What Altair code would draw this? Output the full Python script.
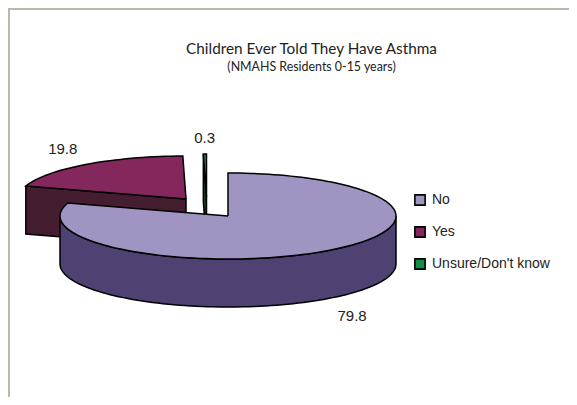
import math
import altair as alt
import pandas as pd

categories = ["No", "Yes", "Unsure/Don't know"]
values = [79.8, 19.8, 0.3]
top_colors = ["#a095c2", "#84275c", "#1a8a48"]
side_colors = ["#4f4272", "#441d30", "#0e3d22"]

# Pie geometry, in page pixels: exploded centres, radii of the tilted disc, its depth
centers = [(228, 216), (186, 199), (206.5, 197)]
RX, RY, DEPTH = 168, 43, 48
label_gaps = [(42, 21), (38, 19), (38, 16)]

sx = alt.Scale(domain=[8, 569], nice=False, zero=False)
sy = alt.Scale(domain=[397, 8], nice=False, zero=False)


def pt(c, deg, drop=0):
    a = math.radians(deg)
    return c[0] + RX * math.sin(a), c[1] - RY * math.cos(a) + drop


def arc(c, a0, a1, drop=0):
    n = max(2, int(abs(a1 - a0) / 2) + 1)
    return [pt(c, a0 + (a1 - a0) * i / n, drop) for i in range(n + 1)]


def poly(points, **extra):
    pts = list(points) + [points[0]]
    return pd.DataFrame(
        [dict(x=p[0], y=p[1], i=i, **extra) for i, p in enumerate(pts)]
    )


def x_y():
    return dict(
        x=alt.X("x:Q", scale=sx, axis=None),
        y=alt.Y("y:Q", scale=sy, axis=None),
        order=alt.Order("i:Q"),
    )


total = sum(values)
spans, start = [], 0.0
for v in values:
    spans.append((start, start + 360 * v / total))
    start += 360 * v / total

fill_scale = alt.Scale(domain=categories, range=top_colors)
legend = alt.Legend(
    title=None, orient="none", legendX=405, legendY=185,
    symbolType="square", symbolSize=105, symbolStrokeColor="black",
    symbolStrokeWidth=1.6, symbolOpacity=1, rowPadding=14, labelFont="Liberation Sans",
    labelFontSize=14, labelColor="#222222", labelOffset=5, labelLimit=170,
)

line_style = dict(stroke="black", strokeWidth=1.5, strokeJoin="miter", filled=True)


def side(df, color):
    return alt.Chart(df).mark_line(fill=color, **line_style).encode(**x_y())


def top(idx):
    c = centers[idx]
    a0, a1 = spans[idx]
    df = poly([c] + arc(c, a0, a1), category=categories[idx])
    return alt.Chart(df).mark_line(**line_style).encode(
        fill=alt.Fill("category:N", scale=fill_scale, legend=legend), **x_y()
    )


layers = []
# Slices 2 and 3: cut face, then top
for idx in (1, 2):
    c = centers[idx]
    a0, a1 = spans[idx]
    s = pt(c, a0)
    sd = pt(c, a0, DEPTH)
    layers.append(side(poly([s, c, (c[0], c[1] + DEPTH), sd]), side_colors[idx]))
    layers.append(top(idx))
# Slice 1: front rim, then top
c = centers[0]
rim = arc(c, 90, 270) + arc(c, 270, 90, DEPTH)
layers.append(side(poly(rim), side_colors[0]))
layers.append(top(0))

# Value labels, placed from each slice's mid angle
rows = []
for idx, v in enumerate(values):
    a0, a1 = spans[idx]
    mid = math.radians((a0 + a1) / 2)
    cx, cy = centers[idx]
    gx, gy = label_gaps[idx]
    rows.append(dict(
        x=cx + (RX + gx) * math.sin(mid),
        y=cy - (RY + gy) * math.cos(mid) + (DEPTH if math.cos(mid) < 0 else 0),
        label=f"{v:.1f}",
    ))
labels = alt.Chart(pd.DataFrame(rows)).mark_text(
    font="Liberation Sans", fontSize=15, color="#222222"
).encode(x=alt.X("x:Q", scale=sx, axis=None), y=alt.Y("y:Q", scale=sy, axis=None), text="label:N")

edge_color = "#b9b9ad"
top_edge = alt.Chart(pd.DataFrame({"a": [0]})).mark_rule(color=edge_color, strokeWidth=2).encode(
    x=alt.value(0), x2=alt.value(561), y=alt.value(1)
)
left_edge = alt.Chart(pd.DataFrame({"a": [0]})).mark_rule(color=edge_color, strokeWidth=2).encode(
    x=alt.value(1), y=alt.value(0), y2=alt.value(389)
)

chart = alt.layer(top_edge, left_edge, *layers, labels).resolve_scale(fill="shared").properties(
    width=561,
    height=389,
    background="white",
    padding=0,
    autosize=alt.AutoSizeParams(type="none"),
    title=alt.TitleParams(
        text="Children Ever Told They Have Asthma",
        subtitle="(NMAHS Residents 0-15 years)",
        font="Lato", fontSize=15.3, fontWeight="normal", color="#222222",
        subtitleFont="Lato", subtitleFontSize=12.4, subtitleColor="#222222",
        subtitlePadding=3, anchor="middle", frame="group", dx=23, dy=70,
    ),
).configure_view(stroke=None)

chart.save("out.html", embed_options={"renderer": "svg", "actions": False})
